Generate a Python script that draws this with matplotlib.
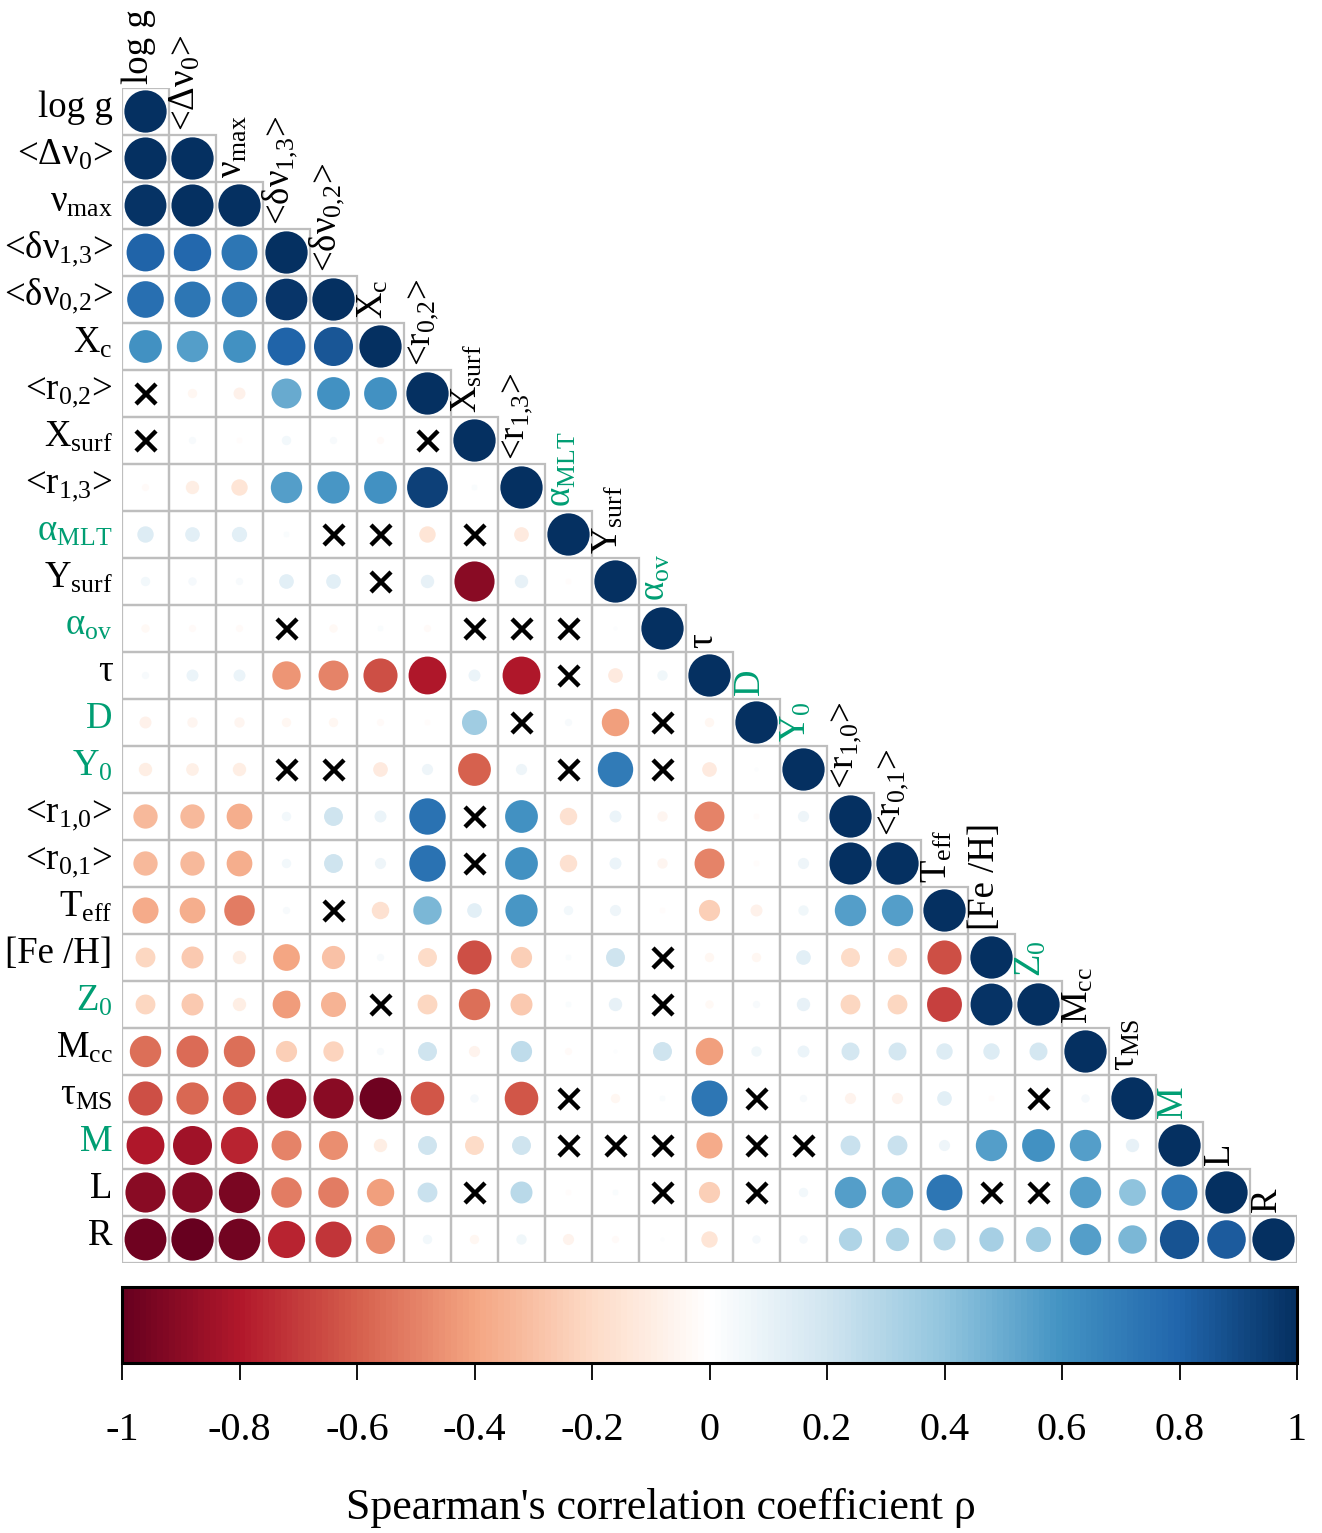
import numpy as np
import matplotlib
matplotlib.use("Agg")
import matplotlib.pyplot as plt
from matplotlib.patches import Circle, Rectangle
from matplotlib.colors import LinearSegmentedColormap, Normalize
from matplotlib.cm import ScalarMappable

plt.rcParams['font.family'] = ['Liberation Serif', 'DejaVu Serif']
plt.rcParams['mathtext.fontset'] = 'custom'
plt.rcParams['mathtext.rm'] = 'Liberation Serif'
plt.rcParams['mathtext.it'] = 'Liberation Serif:italic'
plt.rcParams['mathtext.bf'] = 'Liberation Serif:bold'

# ---- variables (row/column order) ----
labels = [
    "log g", "<Δν$_0$>", "ν$_{\\mathrm{max}}$", "<δν$_{1{,}3}$>",
    "<δν$_{0{,}2}$>", "X$_{\\mathrm{c}}$", "<r$_{0{,}2}$>",
    "X$_{\\mathrm{surf}}$", "<r$_{1{,}3}$>", "α$_{\\mathrm{MLT}}$",
    "Y$_{\\mathrm{surf}}$", "α$_{\\mathrm{ov}}$", "τ", "D", "Y$_0$",
    "<r$_{1{,}0}$>", "<r$_{0{,}1}$>", "T$_{\\mathrm{eff}}$",
    "[Fe /H]", "Z$_0$", "M$_{\\mathrm{cc}}$", "τ$_{\\mathrm{MS}}$", "M", "L", "R",
]
# model input parameters are highlighted
input_params = ["α$_{\\mathrm{MLT}}$", "α$_{\\mathrm{ov}}$", "D", "Y$_0$", "Z$_0$", "M"]

# ---- Spearman correlations, lower triangle (row i: columns 0..i-1) ----
rho_lower = [
    [],
    [0.99],
    [0.98, 0.99],
    [0.80, 0.78, 0.72],
    [0.75, 0.72, 0.70, 0.97],
    [0.60, 0.55, 0.60, 0.80, 0.85],
    [0.01, -0.05, -0.08, 0.50, 0.60, 0.60],
    [0.01, 0.03, -0.02, 0.05, 0.03, -0.03, 0.01],
    [-0.03, -0.10, -0.15, 0.55, 0.58, 0.60, 0.93, 0.02],
    [0.15, 0.12, 0.13, 0.02, 0.01, 0.01, -0.15, 0.01, -0.12],
    [0.05, 0.04, 0.03, 0.12, 0.12, 0.01, 0.10, -0.90, 0.10, -0.02],
    [-0.04, -0.03, -0.03, 0.01, -0.04, 0.02, -0.03, 0.01, 0.01, 0.01, 0.01],
    [0.03, 0.08, 0.08, -0.45, -0.50, -0.65, -0.80, 0.08, -0.80, 0.01, -0.12, 0.06],
    [-0.08, -0.06, -0.06, -0.05, -0.05, -0.03, -0.02, 0.35, 0.01, 0.03, -0.42, 0.01, -0.05],
    [-0.10, -0.09, -0.10, 0.01, 0.01, -0.12, 0.07, -0.60, 0.07, 0.01, 0.70, 0.01, -0.12, 0.01],
    [-0.33, -0.33, -0.37, 0.05, 0.20, 0.08, 0.74, 0.01, 0.60, -0.17, 0.08, -0.06, -0.50, -0.02, 0.07],
    [-0.33, -0.33, -0.37, 0.05, 0.20, 0.07, 0.74, 0.01, 0.60, -0.17, 0.08, -0.06, -0.50, -0.02, 0.07, 0.99],
    [-0.38, -0.37, -0.52, 0.03, 0.01, -0.17, 0.45, 0.12, 0.58, 0.05, 0.07, -0.02, -0.25, -0.08, 0.06, 0.55, 0.55],
    [-0.22, -0.27, -0.10, -0.40, -0.30, 0.03, -0.20, -0.65, -0.25, 0.02, 0.20, 0.01, -0.05, -0.05, 0.12, -0.20, -0.20, -0.65],
    [-0.22, -0.27, -0.10, -0.43, -0.35, 0.01, -0.22, -0.55, -0.27, 0.02, 0.10, 0.01, -0.04, 0.03, 0.10, -0.22, -0.22, -0.68, 0.98],
    [-0.55, -0.57, -0.55, -0.25, -0.23, 0.03, 0.20, -0.07, 0.25, -0.03, 0.01, 0.20, -0.42, 0.06, 0.08, 0.18, 0.18, 0.15, 0.15, 0.18],
    [-0.65, -0.58, -0.62, -0.88, -0.90, -0.98, -0.63, 0.04, -0.63, 0.01, -0.05, 0.02, 0.72, 0.01, 0.03, -0.07, -0.07, 0.12, -0.02, 0.01, 0.04],
    [-0.80, -0.85, -0.77, -0.50, -0.47, -0.10, 0.20, -0.20, 0.20, 0.01, 0.01, 0.01, -0.38, 0.01, 0.01, 0.22, 0.22, 0.07, 0.55, 0.60, 0.55, 0.10],
    [-0.90, -0.91, -0.95, -0.52, -0.52, -0.42, 0.22, 0.01, 0.27, -0.02, 0.02, 0.01, -0.25, 0.01, 0.05, 0.55, 0.55, 0.72, 0.01, 0.01, 0.55, 0.40, 0.72],
    [-0.98, -1.00, -0.97, -0.77, -0.72, -0.47, 0.05, -0.05, 0.06, -0.07, -0.03, 0.01, -0.15, 0.04, 0.04, 0.30, 0.30, 0.27, 0.33, 0.35, 0.55, 0.45, 0.86, 0.83],
]

# pairs (row, col) whose correlation is not significant
insignificant = [
    (6, 0), (7, 0), (7, 6), (9, 4), (9, 5), (9, 7), (10, 5), (11, 3), (11, 7),
    (11, 8), (11, 9), (12, 9), (13, 8), (13, 11), (14, 3), (14, 4), (14, 9),
    (14, 11), (15, 7), (16, 7), (17, 4), (18, 11), (19, 5), (19, 11), (21, 9),
    (21, 13), (21, 19), (22, 9), (22, 10), (22, 11), (22, 13), (22, 14),
    (23, 7), (23, 11), (23, 13), (23, 18), (23, 19),
]

colorbar_ticks = [-1, -0.8, -0.6, -0.4, -0.2, 0, 0.2, 0.4, 0.6, 0.8, 1]
colorbar_ticklabels = ["-1", "-0.8", "-0.6", "-0.4", "-0.2", "0", "0.2", "0.4", "0.6", "0.8", "1"]

n = len(labels)
corr = np.eye(n)
for i, row in enumerate(rho_lower):
    for j, v in enumerate(row):
        corr[i, j] = v
        corr[j, i] = v

cmap = LinearSegmentedColormap.from_list(
    "RdBu_corr",
    ["#67001F", "#B2182B", "#D6604D", "#F4A582", "#FDDBC7", "#FFFFFF",
     "#D1E5F0", "#92C5DE", "#4393C3", "#2166AC", "#053061"], N=200)
norm = Normalize(-1, 1)

W, H = 1322, 1533
fig = plt.figure(figsize=(W / 100, H / 100), dpi=100)
ax = fig.add_axes([122 / W, 1 - 1263 / H, 1175 / W, 1175 / H])
ax.set_xlim(0, n)
ax.set_ylim(n, 0)
ax.axis("off")

grid_col = "#BEBEBE"
green = "#009E73"

for i in range(n):
    for j in range(i + 1):
        ax.add_patch(Rectangle((j, i), 1, 1, fill=False, ec=grid_col, lw=1.6, zorder=1))
for i in range(n):
    for j in range(i + 1):
        r = corr[i, j]
        ax.add_patch(Circle((j + 0.5, i + 0.5), 0.45 * np.sqrt(abs(r)),
                            fc=cmap(norm(r)), ec="none", zorder=2))

xs = [j + 0.5 for (i, j) in insignificant]
ys = [i + 0.5 for (i, j) in insignificant]
ax.plot(xs, ys, ls="none", marker="x", ms=15, mew=3.2, color="black", zorder=3)

fs_lab = 26.5
for k, lab in enumerate(labels):
    c = green if lab in input_params else "black"
    ax.text(-0.2, k + 0.62, lab, ha="right", va="baseline", fontsize=fs_lab,
            color=c, clip_on=False)
    ax.text(k + 0.55, k - 0.08, lab, rotation=90, rotation_mode="anchor",
            ha="left", va="baseline", fontsize=fs_lab, color=c, clip_on=False)

# colour bar
cax = fig.add_axes([122 / W, 1 - 1363 / H, 1175 / W, 76 / H])
sm = ScalarMappable(norm=norm, cmap=cmap)
cb = fig.colorbar(sm, cax=cax, orientation="horizontal", ticks=colorbar_ticks)
cb.outline.set_linewidth(2.2)
cb.ax.set_xticklabels(colorbar_ticklabels)
cb.ax.tick_params(axis="x", direction="out", length=12, width=1.3,
                  labelsize=29, pad=23)
fig.text(0.5, 1 - 1508 / H, "Spearman's correlation coefficient ρ",
         ha="center", va="center", fontsize=31.5)

fig.savefig("out.png", dpi=100)
